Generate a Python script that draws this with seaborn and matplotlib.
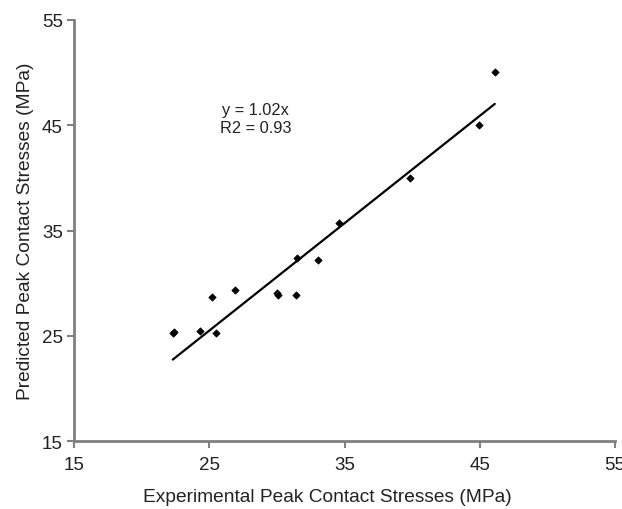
import numpy as np
import pandas as pd
import matplotlib
matplotlib.use("Agg")
import matplotlib.pyplot as plt
import seaborn as sns

# values
experimental = [22.3, 22.4, 24.3, 25.5, 25.2, 26.9, 30.0, 30.1, 31.4, 31.5, 33.0, 34.6, 39.8, 44.9, 46.1]
predicted = [25.3, 25.4, 25.5, 25.3, 28.7, 29.4, 29.1, 28.9, 28.9, 32.4, 32.2, 35.7, 40.0, 45.0, 50.1]
slope = 1.02
r2 = 0.93
ticks = [15, 25, 35, 45, 55]

df = pd.DataFrame({"exp": experimental, "pred": predicted})

sns.set_style("white")
plt.rcParams['font.family'] = ['Liberation Sans', 'DejaVu Sans']

fig = plt.figure(figsize=(6.22, 5.10), dpi=100)
ax = fig.add_axes([0.119, 0.133, 0.870, 0.826])

sns.scatterplot(data=df, x="exp", y="pred", marker="D", s=14, color="black",
                edgecolor="black", linewidth=0.5, ax=ax)

# trendline through origin, y = 1.02x
fit_x = np.array([min(experimental), max(experimental)])
sns.lineplot(x=fit_x, y=slope * fit_x, color="black", linewidth=1.6, ax=ax)

ax.text(28.4, 46.5, f"y = {slope:.2f}x", fontsize=11.8, ha="center", va="center", color="#222222")
ax.text(28.4, 44.8, f"R2 = {r2:.2f}", fontsize=11.8, ha="center", va="center", color="#222222")

ax.set_xlim(15, 55)
ax.set_ylim(15, 55)
ax.set_xticks(ticks)
ax.set_yticks(ticks)
ax.tick_params(axis="both", bottom=True, left=True, direction="out", length=5, width=1.5,
               color="#808080", labelsize=13.5, labelcolor="#222222")
ax.tick_params(axis="x", pad=6)
ax.tick_params(axis="y", pad=3)

for side in ["top", "right"]:
    ax.spines[side].set_visible(False)
for side in ["left", "bottom"]:
    ax.spines[side].set_color("#808080")
    ax.spines[side].set_linewidth(2)

ax.set_xlabel("Experimental Peak Contact Stresses (MPa)", fontsize=13.8, color="#222222")
ax.set_ylabel("Predicted Peak Contact Stresses (MPa)", fontsize=13.8, color="#222222", labelpad=6)
ax.xaxis.set_label_coords(0.468, -0.112)

fig.savefig("out.png", dpi=100)
